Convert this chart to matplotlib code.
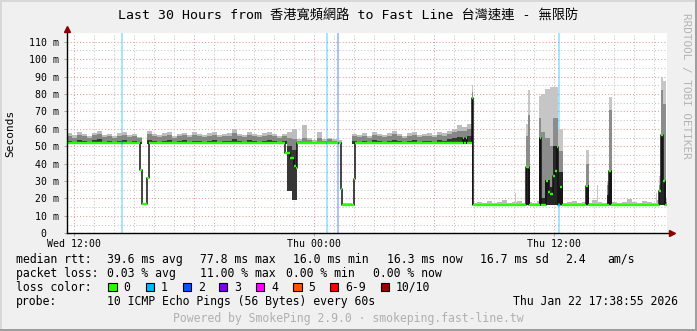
import numpy as np
import matplotlib
matplotlib.use("Agg")
import matplotlib.pyplot as plt
from matplotlib.patches import Rectangle

# Figure geometry (pixels)
W, H = 697, 331
DPI = 100
PLOT_X0, PLOT_X1 = 66.7, 666.7
PLOT_Y0, PLOT_Y1 = 233.3, 33.0
BG = "#f0f0f0"
MONO = ["DejaVu Sans Mono", "Noto Sans CJK TC"]

LIGHT = "#bdbdbd"
MID = "#868686"
DARK = "#363636"
GREEN = "#26ff00"

# ---- data -------------------------------------------------------------
HOURS = 30
BIN_HOURS = 0.25

# smoke envelope per 15 minute bin (ms)
smoke_lo = ([51.0] * 15 + [16.0] + [51.0] * 28 + [24.0, 19.0] + [51.0] * 9
            + [16.0, 16.0] + [51.0] * 24 + [16.0] * 39)
smoke_dark = [
    53.0, 52.5, 53.5, 53.0, 52.5, 53.5, 54.0, 52.5, 53.0, 52.5,
    53.0, 53.5, 52.5, 53.0, 52.5, 16.5, 53.5, 53.0, 52.5, 53.0,
    53.5, 52.5, 53.0, 53.5, 52.5, 53.0, 53.0, 52.5, 53.0, 53.5,
    52.5, 53.0, 53.0, 54.0, 53.0, 52.5, 53.5, 53.0, 52.5, 53.0,
    53.5, 53.0, 52.5, 53.0, 50.0, 48.0, 52.0, 52.5, 52.0, 52.0,
    52.5, 52.0, 52.5, 52.0, 52.0, 16.5, 16.5, 53.0, 52.5, 53.0,
    52.5, 53.5, 53.0, 52.5, 53.0, 53.5, 53.0, 52.5, 53.0, 53.5,
    52.5, 53.0, 53.0, 52.5, 53.5, 53.0, 54.0, 54.5, 55.5, 55.0,
    56.0] + [16.5] * 39
smoke_mid = [
    56.0, 55.0, 56.5, 56.0, 55.0, 56.5, 57.0, 55.5, 56.0, 55.0,
    56.0, 56.5, 55.5, 56.0, 54.5, 17.0, 57.0, 56.0, 55.5, 56.0,
    56.5, 55.0, 56.0, 56.5, 55.5, 56.5, 56.0, 55.5, 56.0, 56.5,
    55.5, 56.0, 56.0, 57.5, 56.0, 55.5, 56.5, 56.0, 55.5, 56.0,
    56.5, 56.0, 55.0, 56.0, 55.0, 54.0, 53.0, 55.0, 53.5, 52.5,
    55.0, 53.0, 54.0, 53.0, 52.5, 17.0, 17.0, 56.0, 55.5, 56.0,
    55.0, 56.5, 56.0, 55.5, 56.0, 57.0, 56.0, 55.0, 56.0, 56.5,
    55.5, 56.0, 56.0, 55.5, 56.5, 56.0, 57.0, 58.0, 59.0, 58.5,
    60.0] + [17.0] * 39
smoke_hi = [
    57.5, 56.5, 58.0, 57.0, 56.0, 57.5, 58.5, 56.5, 57.0, 56.0,
    57.5, 58.0, 56.5, 57.0, 55.5, 17.5, 58.5, 57.0, 56.5, 57.5,
    58.0, 56.0, 57.0, 57.5, 56.5, 58.0, 57.0, 56.5, 57.5, 58.0,
    56.5, 57.0, 57.5, 60.0, 57.0, 56.5, 58.0, 57.0, 56.5, 57.5,
    58.0, 57.0, 56.0, 57.0, 58.0, 60.0, 54.0, 62.0, 54.5, 53.5,
    58.0, 54.0, 55.0, 54.0, 53.5, 17.5, 17.5, 57.0, 56.5, 57.5,
    56.0, 58.0, 57.0, 56.5, 57.5, 58.5, 57.0, 56.0, 57.5, 58.0,
    56.5, 57.0, 57.5, 56.5, 58.0, 57.5, 59.0, 60.0, 62.0, 61.0,
    63.0,
    17.5, 18.0, 17.5, 18.5, 17.5, 18.0, 19.0, 17.5, 18.0,
    18.5, 17.5, 18.0, 17.5, 18.5, 18.0, 17.5, 19.0, 18.0, 17.5,
    18.0, 18.5, 17.5, 18.0, 17.5, 19.0, 18.0, 17.5, 18.5, 18.0,
    17.5, 18.0, 19.5, 18.0, 17.5, 18.5, 18.0, 17.5, 19.0, 18.0]

# narrow spike columns (hours from left edge)
spike_t0 = [20.25, 22.40, 22.97, 23.06, 23.62, 23.72, 23.92, 24.17, 24.32, 24.57,
            25.97, 26.49, 27.02, 27.09, 29.45, 29.62, 29.70, 29.82, 29.94]
spike_t1 = [20.31, 22.45, 23.06, 23.16, 23.72, 23.92, 24.17, 24.32, 24.57, 24.80,
            26.09, 26.54, 27.09, 27.25, 29.50, 29.70, 29.82, 29.94, 30.00]
spike_lo = [16.4] * 19
spike_dark = [78.0, 16.5, 38.0, 37.0, 55.0, 20.0, 30.5, 26.5, 50.0, 35.0,
              27.5, 16.5, 22.0, 36.0, 16.5, 24.0, 56.6, 30.0, 16.5]
spike_mid = [81.0, 17.0, 56.0, 68.0, 66.0, 58.0, 55.0, 50.0, 66.0, 47.0,
             40.0, 17.0, 28.0, 71.0, 17.0, 28.0, 82.0, 74.0, 18.0]
spike_hi = [85.0, 23.0, 63.0, 82.0, 79.0, 80.0, 83.0, 84.0, 84.0, 60.0,
            48.0, 27.5, 30.0, 78.0, 23.0, 33.0, 89.6, 87.7, 20.5]

# median rtt change points (hours, ms)
med_t = [0.0, 3.665, 3.75, 4.03, 4.13, 10.92, 11.15, 11.35, 11.45, 11.53,
         13.72, 13.79, 14.35, 14.40, 19.80, 19.85, 19.98, 20.03, 20.25, 20.31,
         22.97, 23.10, 23.64, 23.72, 23.95, 24.05, 24.17, 24.32, 24.42, 24.50,
         24.57, 24.67, 24.77, 25.98, 26.08, 27.12, 27.22, 29.63, 29.70, 29.82,
         29.92]
med_v = [51.7, 36.3, 16.6, 31.6, 51.7, 46.0, 43.5, 38.5, 37.3, 51.7,
         25.3, 16.3, 31.0, 51.7, 55.0, 51.7, 55.0, 51.7, 77.8, 16.4,
         38.0, 16.4, 55.0, 16.4, 30.0, 23.7, 22.5, 33.0, 36.0, 49.5,
         16.4, 26.5, 16.4, 27.3, 16.4, 36.0, 16.4, 24.0, 56.6, 30.0,
         16.3]

# packet loss events
loss_t = [2.765, 13.0, 13.58, 24.6]
loss_n = [1, 1, 2, 1]

loss_labels = ["0", "1", "2", "3", "4", "5", "6-9", "10/10"]
loss_colors = ["#26ff00", "#00b8ff", "#0059ff", "#7e00ff", "#ff00ff",
               "#ff5500", "#ff0000", "#a10000"]

x_tick_hours = [0.351, 12.351, 24.351]
x_tick_labels = ["Wed 12:00", "Thu 00:00", "Thu 12:00"]
y_ticks = list(range(0, 111, 10))

title = "Last 30 Hours from 香港寬頻網路 to Fast Line 台灣速連 - 無限防"
median_stats = ["39.6 ms avg", "77.8 ms max", "16.0 ms min", "16.3 ms now",
                "16.7 ms sd", "2.4", "am/s"]
loss_stats = ["0.03 % avg", "11.00 % max", "0.00 % min", "0.00 % now"]
probe_text = "10 ICMP Echo Pings (56 Bytes) every 60s"
stamp_text = "Thu Jan 22 17:38:55 2026"
footer = "Powered by SmokePing 2.9.0 · smokeping.fast-line.tw"


def fx(x):
    return x / W


def fy(y):
    return 1 - y / H


fig = plt.figure(figsize=(W / DPI, H / DPI), dpi=DPI, facecolor=BG)
ax = fig.add_axes([fx(PLOT_X0), fy(PLOT_Y0), (PLOT_X1 - PLOT_X0) / W,
                   (PLOT_Y0 - PLOT_Y1) / H])
ax.set_facecolor("white")
ax.set_xlim(0, HOURS)
ax.set_ylim(0, 115)
for s in ax.spines.values():
    s.set_visible(False)

# grid
for k in range(HOURS):
    h = x_tick_hours[0] + k
    major = (k % 6 == 0)
    ax.axvline(h, color="#e49a9a" if major else "#c4c4c4", lw=0.75,
               ls=(0, (1, 2)), zorder=0.5)
for v in range(5, 115, 5):
    ax.axhline(v, color="#e49a9a" if v % 10 == 0 else "#c4c4c4", lw=0.75,
               ls=(0, (1, 2)), zorder=0.5)

# loss background
for t, n in zip(loss_t, loss_n):
    ax.axvspan(t - 0.045, t + 0.045, color=loss_colors[n], alpha=0.35, lw=0, zorder=1)

# smoke
edges = np.arange(len(smoke_hi) + 1) * BIN_HOURS
lo = np.append(smoke_lo, smoke_lo[-1])
for top, col in ((smoke_hi, LIGHT), (smoke_mid, MID), (smoke_dark, DARK)):
    ax.fill_between(edges, lo, np.append(top, top[-1]), step="post",
                    color=col, lw=0, zorder=2)

t0 = np.array(spike_t0)
wid = np.array(spike_t1) - t0
base = np.array(spike_lo)
for top, col in ((spike_hi, "#c6c6c6"), (spike_mid, "#8c8c8c"), (spike_dark, "#262626")):
    ax.bar(t0, np.array(top) - base, bottom=base, width=wid, align="edge",
           color=col, lw=0, zorder=2)

# median
ax.step(med_t + [HOURS], med_v + [med_v[-1]], where="post", color="#111111",
        lw=1.1, zorder=3)
ax.hlines(med_v, med_t, med_t[1:] + [HOURS], colors=GREEN, lw=1.7, zorder=4)
for t, n in zip(loss_t, loss_n):
    v = med_v[np.searchsorted(med_t, t, side="right") - 1]
    ax.hlines(v, t - 0.04, t + 0.04, colors=loss_colors[n], lw=1.7, zorder=5)

# axes lines with arrows
ax.plot([0, 0], [0, 1.015], transform=ax.transAxes, color="black", lw=1,
        clip_on=False, zorder=6)
ax.plot([0, 1.006], [0, 0], transform=ax.transAxes, color="black", lw=1,
        clip_on=False, zorder=6)
ax.plot([0], [1.018], transform=ax.transAxes, marker="^", ms=4.5,
        color="#8b0000", clip_on=False, zorder=7)
ax.plot([1.008], [0], transform=ax.transAxes, marker=">", ms=4.5,
        color="#8b0000", clip_on=False, zorder=7)

# ticks
ax.set_xticks(x_tick_hours)
ax.set_xticklabels(x_tick_labels)
ax.set_yticks(y_ticks)
ax.set_yticklabels([f"{v} m" if v else "0  " for v in y_ticks])
ax.tick_params(axis="both", length=2, width=0.6, color="#999999",
               labelsize=7.1, pad=2)
ax.tick_params(axis="y", pad=3.5)
for lab in ax.get_xticklabels() + ax.get_yticklabels():
    lab.set_family(MONO)

# texts
fig.text(0.5, fy(15), title, ha="center", va="center", fontsize=9.5, family=MONO)
fig.text(fx(10.5), fy(133), "Seconds", rotation=90, ha="center", va="center",
         fontsize=8, family=MONO)
fig.text(fx(686), fy(86), "RRDTOOL / TOBI OETIKER", rotation=270, ha="center",
         va="center", fontsize=7.9, family=MONO, color="#b4b4b4")

FS = 8.3
rows_y = [259.3, 273.3, 287.3, 301.7]
fig.text(fx(16), fy(rows_y[0]), "median rtt:", va="center", fontsize=FS, family=MONO)
for s, x in zip(median_stats, [107, 200, 293.3, 386.7, 480, 565, 607.3]):
    fig.text(fx(x), fy(rows_y[0]), s, va="center", fontsize=FS, family=MONO)
fig.text(fx(16), fy(rows_y[1]), "packet loss:", va="center", fontsize=FS, family=MONO)
for s, x in zip(loss_stats, [107.3, 200, 286, 372.7]):
    fig.text(fx(x), fy(rows_y[1]), s, va="center", fontsize=FS, family=MONO)
fig.text(fx(16), fy(rows_y[2]), "loss color:", va="center", fontsize=FS, family=MONO)
box_x = [108.3, 145.7, 182.7, 219, 256, 293.3, 330, 381]
for lab, col, x in zip(loss_labels, loss_colors, box_x):
    fig.add_artist(Rectangle((fx(x), fy(291.3)), 8.3 / W, 8.6 / H,
                             transform=fig.transFigure, facecolor=col,
                             edgecolor="black", lw=0.8))
    fig.text(fx(x + 15), fy(rows_y[2]), lab, va="center", fontsize=FS, family=MONO)
fig.text(fx(16), fy(rows_y[3]), "probe:", va="center", fontsize=FS, family=MONO)
fig.text(fx(107.3), fy(rows_y[3]), probe_text, va="center", fontsize=FS, family=MONO)
fig.text(fx(513.3), fy(rows_y[3]), stamp_text, va="center", fontsize=FS, family=MONO)
fig.text(fx(348.7), fy(318.3), footer, ha="center", va="center", fontsize=FS,
         family=MONO, color="#b0b0b0")

# 3d frame
frame = [((0, 0), 2 / W, 1, "#d8d8d8"), ((0, 1 - 2 / H), 1, 2 / H, "#d8d8d8"),
         ((1 - 2 / W, 0), 2 / W, 1, "#9e9e9e"), ((0, 0), 1, 2 / H, "#9e9e9e")]
for xy, w, h, col in frame:
    fig.add_artist(Rectangle(xy, w, h, transform=fig.transFigure, facecolor=col,
                             edgecolor="none", lw=0))

fig.savefig("out.png", dpi=DPI, facecolor=BG)
